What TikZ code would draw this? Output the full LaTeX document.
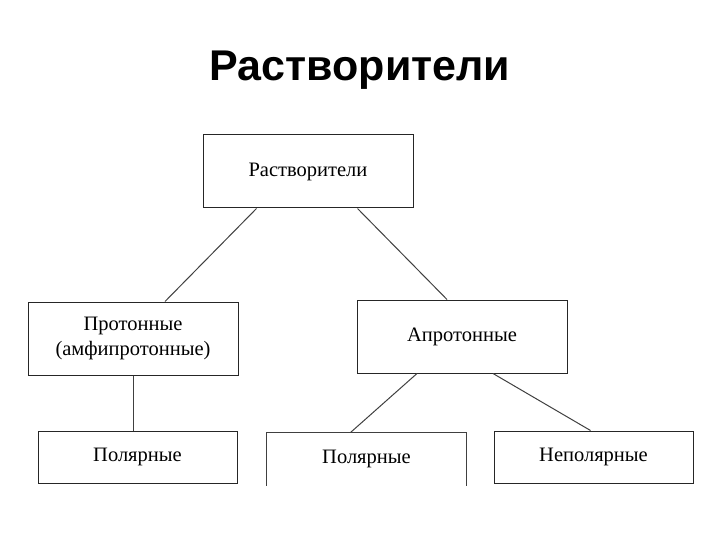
\documentclass[tikz,border=0pt]{standalone}
\usepackage{fontspec}
\setmainfont{Liberation Serif}
\newfontfamily\titlefont{Liberation Sans}
\begin{document}
\begin{tikzpicture}[x=1pt,y=-1pt,
  box/.style={draw=black!85,line width=1pt,inner sep=0pt,align=center,font=\fontsize{20.5}{25}\selectfont},
  conn/.style={draw=black!75,line width=1pt}]
\useasboundingbox (0,0) rectangle (720,540);
\node[font=\titlefont\bfseries\fontsize{43}{48}\selectfont] (title) at (360,70) {Растворители};
\node[box,minimum width=210,minimum height=73] (top) at (308,171.5) {Растворители};
\node[box,minimum width=210,minimum height=73] (prot) at (133,338.5) {Протонные\\(амфипротонные)};
\node[box,minimum width=210,minimum height=73] (aprot) at (462,336.5) {Апротонные};
\node[box,minimum width=199,minimum height=52] (pol1) at (137.5,457) {Полярные};
\node[box,draw=none,minimum width=199,minimum height=52] (pol2) at (366.5,459) {Полярные};
\node[box,minimum width=199,minimum height=52] (npol) at (593.5,457) {Неполярные};
\draw[conn] (pol2.south west) -- (pol2.north west) -- (pol2.north east) -- (pol2.south east);
\draw[conn] ([xshift=54]top.south west) -- ([xshift=32]prot.north);
\draw[conn] ([xshift=-56]top.south east) -- ([xshift=-15]aprot.north);
\draw[conn] (prot.south) -- (pol1.north -| prot.south);
\draw[conn] ([xshift=-45]aprot.south) -- ([xshift=-16]pol2.north);
\draw[conn] ([xshift=31]aprot.south) -- ([xshift=-3]npol.north);
\end{tikzpicture}
\end{document}
